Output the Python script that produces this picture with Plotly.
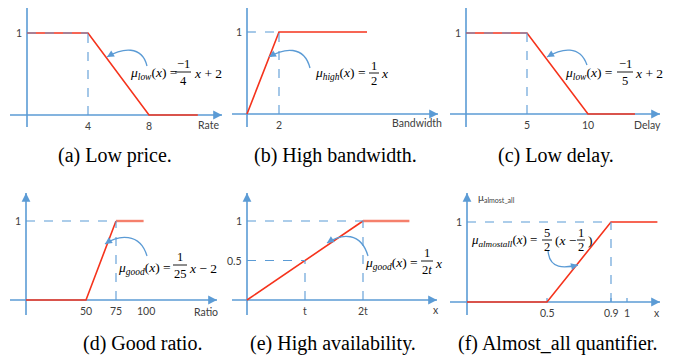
import plotly.graph_objects as go

# The page has an 8px body margin; the figure is sized to fit the 680x361 window.
OFF = 8
W, H = 680 - OFF, 361 - OFF
BLUE = "#5b9bd5"
RED = "#f5331c"
SALMON = "#f5806c"
TXT = "#404040"

# ---------------- data ----------------
a_x = [0, 4, 8, 11.2]
a_y = [1, 1, 0, 0]
b_x = [0, 2, 7.5]
b_y = [0, 1, 1]
c_x = [0, 5, 10, 13.85]
c_y = [1, 1, 0, 0]
d_x = [0, 50, 75, 98]
d_y = [0, 0, 1, 1]
e_x = [0, 2, 2.8]
e_y = [0, 1, 1]
f_x = [0, 0.5, 0.9, 1.19]
f_y = [0, 0, 1, 1]

a_xticks, a_xticklabels = [4, 8], ["4", "8"]
b_xticks, b_xticklabels = [2], ["2"]
c_xticks, c_xticklabels = [5, 10], ["5", "10"]
d_xticks, d_xticklabels = [50, 75, 100], ["50", "75", "100"]
e_xticks, e_xticklabels = [1, 2], ["t", "2t"]
f_xticks, f_xticklabels = [0.5, 0.9, 1], ["0.5", "0.9", "1"]
a_yticks, a_yticklabels = [1], ["1"]
b_yticks, b_yticklabels = [1], ["1"]
c_yticks, c_yticklabels = [1], ["1"]
d_yticks, d_yticklabels = [1], ["1"]
e_yticks, e_yticklabels = [0.5, 1], ["0.5", "1"]
f_yticks, f_yticklabels = [1], ["1"]

axis_titles = ["Rate", "Bandwidth", "Delay", "Ratio", "x", "x"]
captions = ["(a) Low price.", "(b) High bandwidth.", "(c) Low delay.",
            "(d) Good ratio.", "(e) High availability.", "(f) Almost_all quantifier."]

# ---------------- panel geometry (window pixels) ----------------
panels = [
    dict(ox=27, oy=115, sx=15.25, sy=82, xl=10, xt=222, yb=127, yt=5, box=(8, 228, 8, 135)),
    dict(ox=247, oy=114, sx=16, sy=82, xl=232, xt=438, yb=127, yt=5, box=(228, 448, 8, 135)),
    dict(ox=466, oy=114, sx=12.2, sy=81, xl=450, xt=660, yb=127, yt=5, box=(448, 680, 8, 135)),
    dict(ox=26, oy=300, sx=1.2, sy=79, xl=10, xt=217, yb=315, yt=193, box=(8, 228, 185, 320)),
    dict(ox=247, oy=300, sx=58, sy=79, xl=232, xt=437, yb=315, yt=193, box=(228, 448, 185, 320)),
    dict(ox=467, oy=302, sx=160, sy=80, xl=450, xt=660, yb=315, yt=193, box=(448, 680, 185, 320)),
]
title_pos = [(208, 125), (417, 123), (647, 125), (206, 312), (436, 310), (657, 313)]
caption_pos = [(115, 155), (335, 155), (556, 155), (142, 343), (333, 343), (557, 343)]

fig = go.Figure()
layout = dict(width=W, height=H, margin=dict(l=0, r=0, t=0, b=0), autosize=False,
              plot_bgcolor="white", paper_bgcolor="white", showlegend=False)
shapes, annots = [], []


def pp(px, py):
    return (px - OFF) / W, 1 - (py - OFF) / H


def dx(p, px):
    return (px - p["ox"]) / p["sx"]


def dy(p, py):
    return (p["oy"] - py) / p["sy"]


for i, p in enumerate(panels):
    n = "" if i == 0 else str(i + 1)
    x0, x1, y0, y1 = p["box"]
    layout["xaxis" + n] = dict(domain=[pp(x0, 0)[0], min(1, pp(x1, 0)[0])],
                               range=[dx(p, x0), dx(p, min(x1, 680))],
                               visible=False, anchor="y" + n, fixedrange=True)
    layout["yaxis" + n] = dict(domain=[pp(0, y1)[1], min(1, pp(0, y0)[1])],
                               range=[dy(p, y1), dy(p, y0)],
                               visible=False, anchor="x" + n, fixedrange=True)
    p["xr"], p["yr"] = "x" + n, "y" + n
    # axis lines (below traces)
    shapes.append(dict(type="line", xref=p["xr"], yref=p["yr"], layer="below",
                       x0=dx(p, p["xl"]), x1=dx(p, p["xt"]), y0=0, y1=0,
                       line=dict(color=BLUE, width=1.6)))
    shapes.append(dict(type="line", xref=p["xr"], yref=p["yr"], layer="below",
                       x0=0, x1=0, y0=dy(p, p["yb"]), y1=dy(p, p["yt"]),
                       line=dict(color=BLUE, width=1.6)))
    # arrowheads
    annots.append(dict(xref=p["xr"], yref=p["yr"], x=dx(p, p["xt"]), y=0, ax=-6, ay=0,
                       text="", showarrow=True, arrowhead=2, arrowsize=1.1, arrowwidth=1.6,
                       arrowcolor=BLUE))
    annots.append(dict(xref=p["xr"], yref=p["yr"], x=0, y=dy(p, p["yt"]), ax=0, ay=6,
                       text="", showarrow=True, arrowhead=2, arrowsize=1.1, arrowwidth=1.6,
                       arrowcolor=BLUE))
    # axis title
    tx, ty = pp(*title_pos[i])
    annots.append(dict(xref="paper", yref="paper", x=tx, y=ty, text=axis_titles[i],
                       xanchor="center", yanchor="middle",
                       showarrow=False, font=dict(family="Lato", size=10.5, color=TXT)))
    cx, cy = pp(*caption_pos[i])
    annots.append(dict(xref="paper", yref="paper", x=cx, y=cy, text=captions[i],
                       xanchor="center", yanchor="middle",
                       showarrow=False, font=dict(family="Liberation Serif", size=20, color="black")))

xt_list = [(a_xticks, a_xticklabels), (b_xticks, b_xticklabels), (c_xticks, c_xticklabels),
           (d_xticks, d_xticklabels), (e_xticks, e_xticklabels), (f_xticks, f_xticklabels)]
yt_list = [(a_yticks, a_yticklabels), (b_yticks, b_yticklabels), (c_yticks, c_yticklabels),
           (d_yticks, d_yticklabels), (e_yticks, e_yticklabels), (f_yticks, f_yticklabels)]
for p, (tv, tt) in zip(panels, xt_list):
    for v, t in zip(tv, tt):
        annots.append(dict(xref=p["xr"], yref=p["yr"], x=v, y=dy(p, p["oy"] + 11), text=t,
                           xanchor="center", yanchor="middle",
                           showarrow=False, font=dict(family="Lato", size=10.5, color=TXT)))
for p, (tv, tt) in zip(panels, yt_list):
    for v, t in zip(tv, tt):
        annots.append(dict(xref=p["xr"], yref=p["yr"], x=dx(p, p["ox"] - 3), y=v, text=t,
                           xanchor="right", yanchor="middle", showarrow=False,
                           font=dict(family="Lato", size=10.5, color=TXT)))

# small ticks on (f)
pf = panels[5]
for v in f_xticks:
    shapes.append(dict(type="line", xref=pf["xr"], yref=pf["yr"], layer="below",
                       x0=v, x1=v, y0=0, y1=dy(pf, pf["oy"] - 4), line=dict(color=BLUE, width=1.2)))
fx, fy = pp(476, 198)
annots.append(dict(xref="paper", yref="paper", x=fx, y=fy, xanchor="left", yanchor="middle",
                   text="μ<sub>almost_all</sub>", showarrow=False,
                   font=dict(family="Lato", size=10, color=TXT)))


# ---------------- curves ----------------
def add_line(p, xs, ys, color=RED, width=1.6):
    fig.add_trace(go.Scatter(x=xs, y=ys, mode="lines", xaxis=p["xr"], yaxis=p["yr"],
                             line=dict(color=color, width=width), hoverinfo="skip"))


add_line(panels[0], a_x, a_y)
add_line(panels[1], b_x, b_y)
add_line(panels[2], c_x, c_y)
add_line(panels[3], d_x[:3], d_y[:3])
add_line(panels[3], d_x[2:], d_y[2:], SALMON, 2.4)
add_line(panels[4], e_x[:2], e_y[:2])
add_line(panels[4], e_x[1:], e_y[1:], SALMON, 2.6)
add_line(panels[5], f_x, f_y)


def dashed(p, x0, y0, x1, y1):
    shapes.append(dict(type="line", xref=p["xr"], yref=p["yr"], layer="above",
                       x0=x0, y0=y0, x1=x1, y1=y1,
                       line=dict(color=BLUE, width=1.1, dash="dash")))


# guide lines at the break points
dashed(panels[0], 0, a_y[1], a_x[1], a_y[1]); dashed(panels[0], a_x[1], 0, a_x[1], a_y[1])
dashed(panels[1], 0, b_y[1], b_x[1], b_y[1]); dashed(panels[1], b_x[1], 0, b_x[1], b_y[1])
dashed(panels[2], 0, c_y[1], c_x[1], c_y[1]); dashed(panels[2], c_x[1], 0, c_x[1], c_y[1])
dashed(panels[3], 0, d_y[2], d_x[2], d_y[2]); dashed(panels[3], d_x[2], 0, d_x[2], d_y[2])
dashed(panels[4], 0, e_y[1], e_x[1], e_y[1]); dashed(panels[4], e_x[1], 0, e_x[1], e_y[1])
dashed(panels[4], 0, e_yticks[0], e_xticks[0], e_yticks[0])
dashed(panels[4], e_xticks[0], 0, e_xticks[0], e_yticks[0])
dashed(panels[5], 0, f_y[2], f_x[2], f_y[2]); dashed(panels[5], f_x[2], 0, f_x[2], f_y[2])

# curved callout arrows: start, control1, control2, end (window pixels)
callouts = [
    (0, [(147, 66), (142, 45), (122, 48), (107, 57)]),
    (1, [(310, 68), (304, 45), (284, 48), (269, 57)]),
    (2, [(587, 65), (580, 45), (562, 48), (547, 57)]),
    (3, [(147, 256), (140, 232), (118, 235), (105, 244)]),
    (4, [(368, 256), (361, 232), (342, 233), (327, 243)]),
    (5, [(548, 250), (549, 270), (565, 268), (578, 265)]),
]
for i, pts in callouts:
    p = panels[i]
    d = [(dx(p, a), dy(p, b)) for a, b in pts]
    path = "M {},{} C {},{} {},{} {},{}".format(d[0][0], d[0][1], d[1][0], d[1][1],
                                                 d[2][0], d[2][1], d[3][0], d[3][1])
    shapes.append(dict(type="path", xref=p["xr"], yref=p["yr"], path=path, layer="above",
                       line=dict(color=BLUE, width=1.3)))
    ex, ey = pts[3]
    cx2, cy2 = pts[2]
    vx, vy = cx2 - ex, cy2 - ey
    L = (vx * vx + vy * vy) ** 0.5
    annots.append(dict(xref=p["xr"], yref=p["yr"], x=d[3][0], y=d[3][1],
                       ax=vx / L * 5, ay=vy / L * 5, text="", showarrow=True,
                       arrowhead=2, arrowsize=1.0, arrowwidth=1.4, arrowcolor=BLUE))

# ---------------- formulas ----------------
FF = "Liberation Serif"
FS = 13.5


def ftext(px, py, text, anchor="left", size=FS):
    x, y = pp(px, py)
    annots.append(dict(xref="paper", yref="paper", x=x, y=y, xanchor=anchor, yanchor="middle",
                       text=text, showarrow=False,
                       font=dict(family=FF, size=size, color="black")))


def frac(cx, ytop, ybar, ybot, num, den, half):
    ftext(cx, ytop, num, "center", 12.5)
    ftext(cx, ybot, den, "center", 12.5)
    x0, y0 = pp(cx - half, ybar)
    x1, _ = pp(cx + half, ybar)
    shapes.append(dict(type="line", xref="paper", yref="paper", x0=x0, x1=x1, y0=y0, y1=y0,
                       line=dict(color="black", width=0.9)))


ftext(128, 74, "<i>μ<sub>low</sub></i>(<i>x</i>) =")
frac(183, 64, 72, 81, "−1", "4", 8)
ftext(192, 74, "<i>x</i> + 2")

ftext(313, 74, "<i>μ<sub>high</sub></i>(<i>x</i>) =")
frac(374, 66, 73, 81, "1", "2", 5)
ftext(379, 74, "<i>x</i>")

ftext(563, 73, "<i>μ<sub>low</sub></i>(<i>x</i>) =")
frac(625, 64, 72, 81, "−1", "5", 8)
ftext(633, 73, "<i>x</i> + 2")

ftext(116, 268, "<i>μ<sub>good</sub></i>(<i>x</i>) =")
frac(180, 257, 265, 274, "1", "25", 7)
ftext(187, 268, "<i>x</i> − 2")

ftext(363, 263, "<i>μ<sub>good</sub></i>(<i>x</i>) =")
frac(427, 253, 261, 270, "1", "2<i>t</i>", 6)
ftext(433, 263, "<i>x</i>")

ftext(469, 240, "<i>μ<sub>almostall</sub></i>(<i>x</i>) =", size=13)
frac(547, 233, 240, 247, "5", "2", 5)
ftext(553, 240, "(<i>x</i> −")
frac(581, 233, 240, 247, "1", "2", 4)
ftext(586, 240, ")")

layout["shapes"] = shapes
layout["annotations"] = annots
fig.update_layout(**layout)
fig.write_html("out.html")
